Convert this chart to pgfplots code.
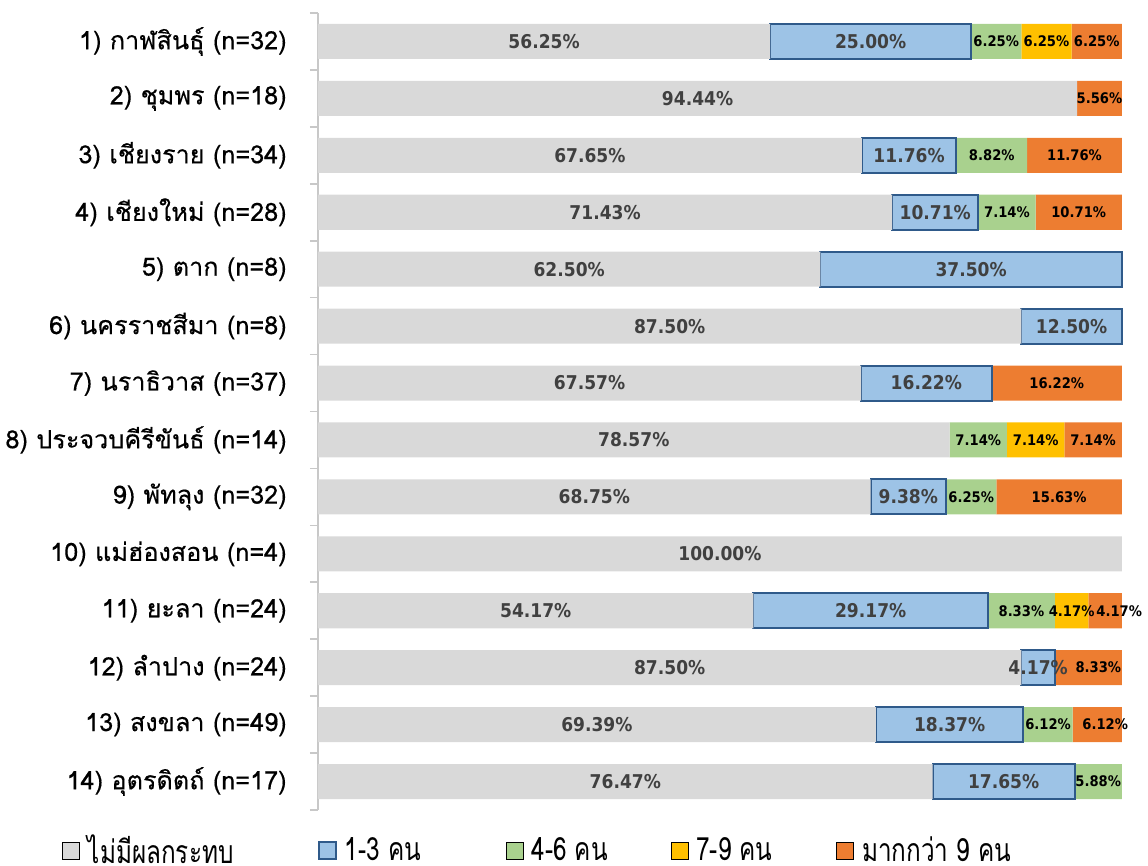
\documentclass[border=0pt]{standalone}
\usepackage{fontspec}
\usepackage{pgfplots}
\usepackage{pgfplotstable}
\pgfplotsset{compat=1.18}
\setmainfont{DejaVu Sans}
\newfontfamily\thaifont[Script=Thai,FakeBold=0.4]{Loma}
\newfontfamily\legfont[Script=Thai,FakeStretch=0.76]{Loma}
\newfontfamily\pctfont[FakeStretch=0.9]{DejaVu Sans}
\definecolor{cgray}{HTML}{D9D9D9}
\definecolor{cblue}{HTML}{9DC3E6}
\definecolor{cblueb}{HTML}{2F5A8A}
\definecolor{cgreen}{HTML}{A9D18E}
\definecolor{cyellow}{HTML}{FFC000}
\definecolor{corange}{HTML}{ED7D31}
\definecolor{axgray}{HTML}{C8C8C8}
\definecolor{lblgray}{HTML}{404040}

% os = horizontal nudge (pt) of the orange label, as in the reference
\pgfplotstableread{
y g b gr ye o os
1 56.25 25.00 6.25 6.25 6.25 0
2 94.44 0 0 0 5.56 0
3 67.65 11.76 8.82 0 11.76 0
4 71.43 10.71 7.14 0 10.71 0
5 62.50 37.50 0 0 0 0
6 87.50 12.50 0 0 0 0
7 67.57 16.22 0 0 16.22 0
8 78.57 0 7.14 7.14 7.14 0
9 68.75 9.38 6.25 0 15.63 0
10 100.00 0 0 0 0 0
11 54.17 29.17 8.33 4.17 4.17 7
12 87.50 4.17 0 0 8.33 5
13 69.39 18.37 6.12 0 6.12 4
14 76.47 17.65 5.88 0 0 0
}\data

\pgfplotsset{
  sqleg/.style={legend image code/.code={\draw[##1,/tikz/.cd,yshift=-4.25pt] (0pt,0pt) rectangle (8.5pt,8.5pt);}},
  seg/.style n args={3}{
    point meta={\thisrow{#1}},
    nodes near coords={\pgfmathfloatifflags{\pgfplotspointmeta}{0}{}{\pgfmathprintnumber[fixed,fixed zerofill,precision=2,assume math mode=true]{\pgfplotspointmeta}\%}},
    every node near coord/.style={
      anchor=center, inner sep=0pt,
      font=\pctfont\bfseries\fontsize{#2}{#2}\selectfont, text=#3},
  },
}

\begin{document}
\begin{tikzpicture}
\path[use as bounding box] (0,0) rectangle (574pt,433pt);
\begin{axis}[
  at={(159pt,28pt)}, anchor=south west,
  scale only axis, width=402pt, height=398.5pt,
  xbar stacked, bar width=0.615,
  xmin=0, xmax=100.02, ymin=0.5, ymax=14.5,
  clip=false,
  y dir=reverse,
  axis x line=none, axis y line=left,
  y axis line style={-, draw=axgray, line width=0.8pt},
  ytick={1,...,14},
  yticklabels={
    {1) กาฬสินธุ์ (n=32)},
    {2) ชุมพร (n=18)},
    {3) เชียงราย (n=34)},
    {4) เชียงใหม่ (n=28)},
    {5) ตาก (n=8)},
    {6) นครราชสีมา (n=8)},
    {7) นราธิวาส (n=37)},
    {8) ประจวบคีรีขันธ์ (n=14)},
    {9) พัทลุง (n=32)},
    {10) แม่ฮ่องสอน (n=4)},
    {11) ยะลา (n=24)},
    {12) ลำปาง (n=24)},
    {13) สงขลา (n=49)},
    {14) อุตรดิตถ์ (n=17)}},
  minor ytick={0.5,1.5,...,14.5},
  major tick length=0pt, minor tick length=4pt, tick align=outside,
  minor tick style={draw=axgray, line width=0.8pt},
  yticklabel style={font=\thaifont\fontsize{12.6}{14}\selectfont, anchor=east, inner sep=0pt, xshift=-15.5pt, text=black},
  legend columns=5,
  legend cell align=left,
  legend style={at={(axis description cs:-0.3184,-0.0514)}, anchor=west, draw=none, fill=none,
    inner sep=0pt, outer sep=0pt, nodes={inner sep=0pt},
    font=\legfont\fontsize{16}{18}\selectfont,
    /tikz/every even column/.append style={column sep=0pt}},
]
\addplot[fill=cgray, draw=none, sqleg, seg={g}{9.5}{lblgray}] table[x=g, y=y]{\data};
\addlegendentry{\hspace{4pt}\makebox[115pt][l]{ไม่มีผลกระทบ}}
\addplot[fill=cblue, draw=cblueb, line width=1pt, sqleg, seg={b}{9.5}{lblgray}] table[x=b, y=y]{\data};
\addlegendentry{\hspace{4pt}\makebox[80.5pt][l]{1-3 คน}}
\addplot[fill=cgreen, draw=none, sqleg, seg={gr}{7.3}{black}] table[x=gr, y=y]{\data};
\addlegendentry{\hspace{4pt}\makebox[69.5pt][l]{4-6 คน}}
\addplot[fill=cyellow, draw=none, sqleg, seg={ye}{7.3}{black}] table[x=ye, y=y]{\data};
\addlegendentry{\hspace{4pt}\makebox[70pt][l]{7-9 คน}}
\addplot[fill=corange, draw=none, sqleg, seg={o}{7.3}{black},
  visualization depends on={\thisrow{os} \as \osh},
  every node near coord/.append style={xshift=\osh pt}] table[x=o, y=y]{\data};
\addlegendentry{\hspace{4pt}มากกว่า 9 คน}
\end{axis}
\end{tikzpicture}
\end{document}
